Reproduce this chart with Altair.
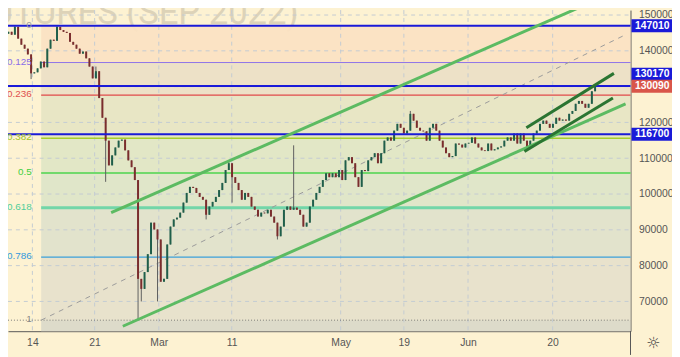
import altair as alt
import pandas as pd

FONT = "Liberation Sans"

# ---------------- data ----------------
close = [144800,145300,144500,146700,143400,141700,140600,139000,133700,134000,
 135100,137000,135400,140600,143100,142800,146700,145800,145300,145000,
 142500,141700,140600,139200,139800,137900,135600,132300,134300,126800,
 121300,114900,108000,110800,113000,114900,115200,112200,109400,107500,
 103900,76300,73500,78200,83200,92000,90100,87300,75500,76300,
 85900,90900,92900,93400,94800,97600,100300,102000,101700,100300,
 99200,98400,94200,96500,97800,99200,101100,103100,106700,108600,
 104700,103100,101100,98400,100300,99200,96500,95600,93700,94800,
 94600,95600,93700,92000,88200,90900,95600,96500,95600,96200,
 95600,94200,90900,92000,96500,98400,100300,102000,103900,105800,
 104700,105800,104700,106700,103900,109400,110300,108600,104700,102000,
 106700,106400,109400,110300,111400,108600,111400,114900,115800,114900,
 117700,119600,118500,116900,117700,122400,120500,118500,117700,117500,
 114900,118500,119600,117700,114900,113000,111400,110300,110600,114100,
 113800,113000,114100,114300,115800,114100,113000,112200,112000,114100,
 112200,112500,113000,113300,114900,115800,114900,116900,114100,116900,
 114900,113000,114900,116900,117700,119600,120500,119600,118500,119600,
 121300,120500,120800,120500,122400,123200,125200,126000,125200,124100,
 125200,128700,130090]
first_open = 144500
wick_high = {3: 147000, 16: 147000, 28: 135600, 69: 109400, 89: 113600, 125: 123200, 182: 130700}
wick_low = {8: 132100, 31: 103400, 41: 64760, 42: 70000, 47: 70000, 62: 92900, 70: 97600,
            84: 87300, 161: 112200}

fib_high = 147010
fib_low = 64760
fib_start = 11.1
fib_levels = [0, 0.125, 0.236, 0.382, 0.5, 0.618, 0.786, 1]
fib_label_text = ["0", "0.125", "0.236", "0.382", "0.5", "0.618", "0.786", "1"]
fib_line_colors = ["#9e9e9e", "#8f73e8", "#e04a4a", "#a6cf2a", "#4cd44c", "#72d6a8", "#3a9fd9", "#7a7a7a"]
fib_label_colors = ["#a0a0a0", "#8a6ee8", "#e04f4f", "#a0c41e", "#3ecf3e", "#4fcf9a", "#3399dd", "#888888"]
fib_widths = [1, 1, 1.2, 1.6, 1.4, 3, 1.2, 1]
band_colors = ["#fbe2c2", "#ebdfc5", "#e6e5c3", "#dfe6c4", "#dde5c8", "#e0e2cb", "#e6e1cb", "#dad9c9"]

hlines = [147010, 130170, 116700]
last_price = 130090

date_pos = [8.4, 27.6, 47.4, 69.9, 103.5, 123, 142.8, 168.9]
date_labels = ["14", "21", "Mar", "11", "May", "19", "Jun", "20"]
price_ticks = [70000, 80000, 90000, 100000, 110000, 120000, 130000, 140000, 150000]

# trend lines: (bar index, price)
big_upper = [(32.7, 94800), (180.9, 153600)]
big_lower = [(36.3, 63060), (191.4, 125160)]
mid_dash = [(11.1, 64760), (191.4, 144500)]
small_upper = [(160.8, 118500), (187.8, 133700)]
small_lower = [(160.2, 111900), (187.5, 126800)]

# ---------------- frames ----------------
X_DOM = [2.4, 191.4]
Y_DOM = [61680, 151380]
W, H = 630, 325
px_per_price = H / (Y_DOM[1] - Y_DOM[0])

opens = [first_open] + close[:-1]
rows = []
for i, c in enumerate(close):
    o = opens[i]
    hi = max(o, c, wick_high.get(i, 0))
    lo = min(o, c, wick_low.get(i, 10**9))
    rows.append(dict(i=i, open=o, close=c, high=hi, low=lo,
                     col="#1f5f4a" if c >= o else "#7b2d2d"))
candles = pd.DataFrame(rows)

fib_prices = [fib_high - l * (fib_high - fib_low) for l in fib_levels]
bands = pd.DataFrame(dict(
    x=[fib_start] * 8,
    top=fib_prices,
    bot=fib_prices[1:] + [Y_DOM[0]],
    col=band_colors))
fib_df = pd.DataFrame(dict(x=fib_start, p=fib_prices[1:7], col=fib_line_colors[1:7], w=fib_widths[1:7]))
fib_lab = pd.DataFrame(dict(p=fib_prices, t=fib_label_text, col=fib_label_colors))

XS = alt.Scale(domain=X_DOM, nice=False, zero=False)
YS = alt.Scale(domain=Y_DOM, nice=False, zero=False)
x_expr = "".join(f"datum.value == {p} ? '{l}' : " for p, l in zip(date_pos, date_labels)) + "''"
xaxis = alt.Axis(values=date_pos, labelExpr=x_expr, grid=False, ticks=False, domainColor="#555555",
                 labelColor="#555555", labelFontSize=10.5, labelFont=FONT, labelPadding=6, title=None,
                 labelOverlap=False, labelFlush=False)
yaxis = alt.Axis(orient="right", values=price_ticks, format="d",
                 labelExpr="datum.value == 130000 ? '' : datum.label", grid=False, ticks=False,
                 domainColor="#555555", labelColor="#555555", labelFontSize=10.5, labelFont=FONT,
                 labelPadding=8, title=None, labelOverlap=False, labelFlush=False)


def X(f):
    return alt.X(f, type="quantitative", scale=XS, axis=xaxis)


def Y(f):
    return alt.Y(f, type="quantitative", scale=YS, axis=yaxis)


layers = []
# watermark (behind everything)
layers.append(alt.Chart(pd.DataFrame(dict(t=["RTS FUTURES (SEP 2022)"]))).mark_text(
    align="right", baseline="alphabetic", fontSize=35, font="Roboto", color="#c9bfa8", opacity=0.6).encode(
    x=alt.value(294), y=alt.value(14), text="t:N"))
# bands
layers.append(alt.Chart(bands).mark_rect(opacity=0.92).encode(
    x=X("x"), x2=alt.value(W), y=Y("top"), y2="bot", color=alt.Color("col:N", scale=None)))
# grid
layers.append(alt.Chart(pd.DataFrame(dict(p=price_ticks))).mark_rule(
    color="#c3cbd2", strokeDash=[4, 4], strokeWidth=1).encode(y=Y("p"), x=alt.value(0), x2=alt.value(W)))
layers.append(alt.Chart(pd.DataFrame(dict(d=date_pos))).mark_rule(
    color="#c3cbd2", strokeDash=[4, 4], strokeWidth=1).encode(x=X("d"), y=alt.value(0), y2=alt.value(H)))
# fib lines
layers.append(alt.Chart(fib_df).mark_rule().encode(
    x=X("x"), x2=alt.value(W), y=Y("p"), color=alt.Color("col:N", scale=None),
    strokeWidth=alt.StrokeWidth("w:Q", scale=None)))
layers.append(alt.Chart(pd.DataFrame(dict(p=[fib_prices[7]]))).mark_rule(
    color="#777777", strokeDash=[1, 2], strokeWidth=1).encode(y=Y("p"), x=alt.value(0), x2=alt.value(W)))


def line_df(pts, name):
    return pd.DataFrame(dict(x=[p[0] for p in pts], p=[p[1] for p in pts], id=name))


layers.append(alt.Chart(line_df(mid_dash, "m")).mark_line(
    color="#9a9a9a", strokeDash=[5, 5], strokeWidth=1, clip=True).encode(x=X("x"), y=Y("p")))
# candles
layers.append(alt.Chart(candles).mark_rule(strokeWidth=1, color="#5e5e5e").encode(
    x=X("i"), y=Y("low"), y2="high"))
layers.append(alt.Chart(candles).mark_bar(size=2).encode(
    x=X("i"), y=Y("open"), y2="close", color=alt.Color("col:N", scale=None)))
# blue horizontal lines
layers.append(alt.Chart(pd.DataFrame(dict(p=hlines))).mark_rule(color="#1a1ad8", strokeWidth=2).encode(
    y=Y("p"), x=alt.value(0), x2=alt.value(W)))
# channels
for pts in [big_upper, big_lower]:
    layers.append(alt.Chart(line_df(pts, "c")).mark_line(color="#5cbb62", strokeWidth=3, clip=True).encode(
        x=X("x"), y=Y("p")))
for pts in [small_upper, small_lower]:
    layers.append(alt.Chart(line_df(pts, "s")).mark_line(color="#2b7532", strokeWidth=3, clip=True).encode(
        x=X("x"), y=Y("p")))
# fib labels
layers.append(alt.Chart(fib_lab).mark_text(align="right", baseline="middle", fontSize=10, font=FONT, dy=-1).encode(
    x=alt.value(24), y=Y("p"), text="t:N", color=alt.Color("col:N", scale=None)))
# price boxes on right
box_prices = [147010, 130170, last_price, 116700]
box_shift_px = [0, -12, 0, 0]
box_cols = ["#1a1ad8", "#1a1ad8", "#d9564a", "#1a1ad8"]
centers = [p - s / px_per_price for p, s in zip(box_prices, box_shift_px)]
boxes = pd.DataFrame(dict(
    c=centers,
    top=[c + 6.5 / px_per_price for c in centers],
    bot=[c - 6.5 / px_per_price for c in centers],
    t=[str(p) for p in box_prices],
    col=box_cols))
layers.append(alt.Chart(boxes).mark_rect().encode(
    x=alt.value(W + 1), x2=alt.value(W + 42), y=Y("top"), y2="bot", color=alt.Color("col:N", scale=None)))
layers.append(alt.Chart(boxes).mark_text(align="center", baseline="middle", fontSize=10.5, font=FONT,
                                          fontWeight="bold", color="white").encode(
    x=alt.value(W + 22), y=Y("c"), text="t:N"))
# axis corner pieces
layers.append(alt.Chart(pd.DataFrame(dict(a=[1]))).mark_rule(color="#555555").encode(
    x=alt.value(W), y=alt.value(H), y2=alt.value(H + 24)))
layers.append(alt.Chart(pd.DataFrame(dict(t=["☼"]))).mark_text(
    fontSize=16, font="DejaVu Sans", color="#444444", baseline="middle").encode(
    x=alt.value(W + 23), y=alt.value(H + 12), text="t:N"))

chart = alt.layer(*layers).properties(
    width=W, height=H,
    autosize=alt.AutoSizeParams(type="none"),
    padding={"left": 0, "top": 0, "right": 42, "bottom": 24},
    background="#fdf2d2",
).configure_view(strokeWidth=0)

chart.save("out.html", embed_options={"renderer": "svg", "actions": False})
